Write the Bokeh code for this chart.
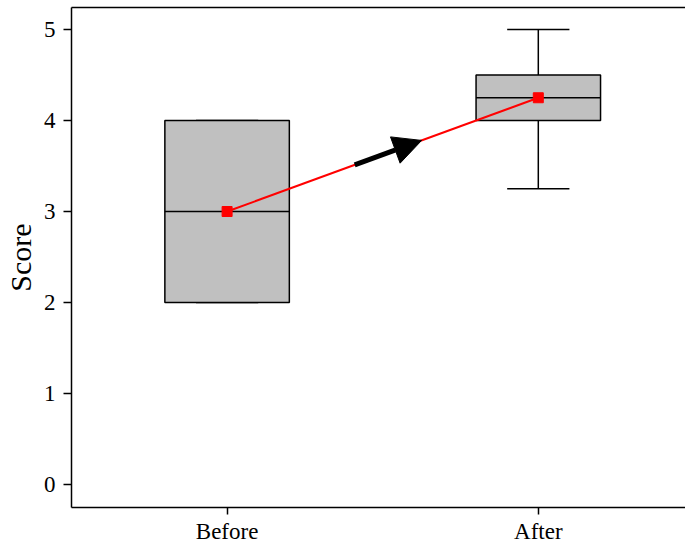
from bokeh.plotting import figure
from bokeh.models import Range1d, FixedTicker, LinearAxis, Arrow, NormalHead
from bokeh.embed import file_html
from bokeh.resources import INLINE

# ---- data ----
groups = ["Before", "After"]
positions = [1, 2]
q1 = [2.0, 4.0]
median = [3.0, 4.25]
q3 = [4.0, 4.5]
lower = [2.0, 3.25]
upper = [4.0, 5.0]
mean = [3.0, 4.25]
y_ticks = [0, 1, 2, 3, 4, 5]
arrow_frac = [0.41, 0.625]  # arrow start/end along the mean line

FONT = "Liberation Serif"
BOX_W = 0.4
CAP_W = 0.2

p = figure(frame_width=614, frame_height=500,
           x_range=Range1d(0.5, 2.473), y_range=Range1d(-0.253, 5.242),
           output_backend="svg", toolbar_location=None,
           min_border_left=64, min_border_right=0,
           min_border_top=7, min_border_bottom=39,
           x_axis_location=None, y_axis_location=None)
p.outline_line_color = None
p.grid.visible = False
p.background_fill_color = "white"
p.border_fill_color = "white"

# axes
yaxis = LinearAxis(ticker=FixedTicker(ticks=y_ticks), axis_label="Score")
xaxis = LinearAxis(ticker=FixedTicker(ticks=positions))
xaxis.major_label_overrides = {pos: g for pos, g in zip(positions, groups)}
top = LinearAxis(ticker=FixedTicker(ticks=[]))
for ax in (yaxis, xaxis, top):
    ax.axis_line_width = 1.5
    ax.axis_line_color = "black"
    ax.major_tick_line_width = 1.5
    ax.major_tick_line_color = "black"
    ax.minor_tick_line_color = None
    ax.major_tick_in = 0
    ax.major_tick_out = 8
    ax.major_label_text_font = FONT
    ax.major_label_text_color = "black"
    ax.axis_label_text_font = FONT
    ax.axis_label_text_color = "black"
    ax.axis_label_text_font_style = "normal"
top.major_tick_out = 0
top.major_label_text_font_size = "0px"
yaxis.major_label_text_font_size = "23px"
yaxis.major_label_standoff = 8
yaxis.axis_label_text_font_size = "30px"
yaxis.axis_label_standoff = 4
xaxis.major_label_text_font_size = "23px"
xaxis.major_label_standoff = 4
xaxis.major_tick_out = 7
p.add_layout(yaxis, "left")
p.add_layout(xaxis, "below")
p.add_layout(top, "above")

# whiskers
p.segment(x0=positions, y0=q3, x1=positions, y1=upper, line_color="black", line_width=1.5)
p.segment(x0=positions, y0=lower, x1=positions, y1=q1, line_color="black", line_width=1.5)
p.segment(x0=[x - CAP_W / 2 for x in positions], y0=upper,
          x1=[x + CAP_W / 2 for x in positions], y1=upper, line_color="black", line_width=1.5)
p.segment(x0=[x - CAP_W / 2 for x in positions], y0=lower,
          x1=[x + CAP_W / 2 for x in positions], y1=lower, line_color="black", line_width=1.5)

# boxes
p.vbar(x=positions, width=BOX_W, bottom=q1, top=q3, fill_color="#c0c0c0",
       line_color="black", line_width=1.5)
p.segment(x0=[x - BOX_W / 2 for x in positions], y0=median,
          x1=[x + BOX_W / 2 for x in positions], y1=median, line_color="black", line_width=1.5)

# mean line and markers
p.line(x=positions, y=mean, line_color="red", line_width=2)
p.scatter(x=positions, y=mean, marker="square", size=10, fill_color="red", line_color="red")

# arrow along the mean line
xs = [positions[0] + f * (positions[1] - positions[0]) for f in arrow_frac]
ys = [mean[0] + f * (mean[1] - mean[0]) for f in arrow_frac]
p.add_layout(Arrow(x_start=xs[0], y_start=ys[0], x_end=xs[1], y_end=ys[1],
                   line_color="black", line_width=5,
                   end=NormalHead(size=28, fill_color="black", line_color="black", line_width=1)))

open("out.html", "w").write(file_html(p, INLINE))
